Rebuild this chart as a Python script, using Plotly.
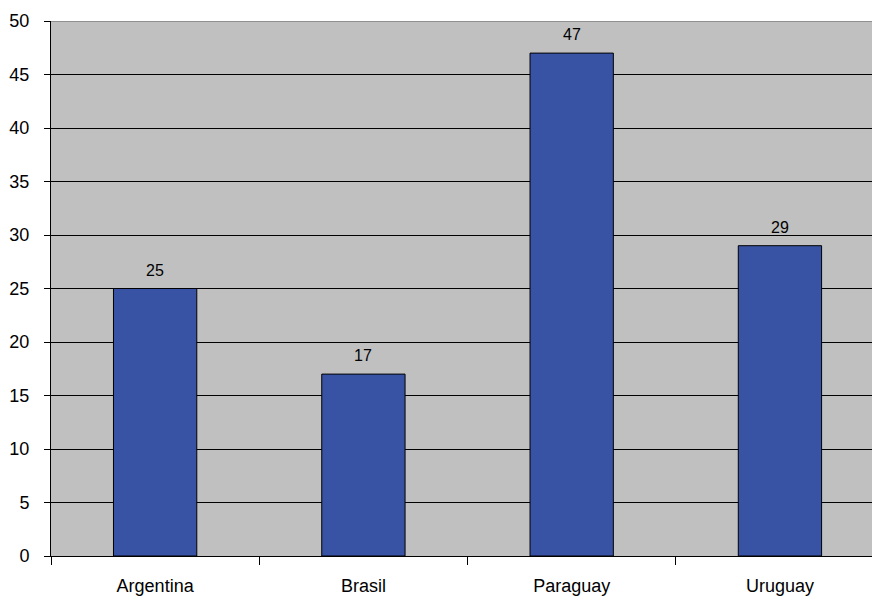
import plotly.graph_objects as go

categories = ["Argentina", "Brasil", "Paraguay", "Uruguay"]
values = [25, 17, 47, 29]
y_ticks = [0, 5, 10, 15, 20, 25, 30, 35, 40, 45, 50]

FONT = "Liberation Sans, Arial, sans-serif"

fig = go.Figure()
fig.add_trace(go.Bar(
    x=categories, y=values,
    marker=dict(color="#3953A4", line=dict(color="#000000", width=1)),
    width=0.4,
    hoverinfo="x+y",
))

for c, v in zip(categories, values):
    fig.add_annotation(x=c, y=v, text=str(v), showarrow=False,
                       yanchor="bottom", yshift=8,
                       font=dict(family=FONT, size=16, color="#000000"))

fig.add_shape(type="line", xref="paper", yref="y", x0=0, x1=1, y0=50, y1=50,
              line=dict(color="#808080", width=1.5))

fig.update_layout(
    width=872, height=597,
    margin=dict(l=51, r=0, t=21, b=41),
    paper_bgcolor="#FFFFFF",
    plot_bgcolor="#C0C0C0",
    showlegend=False,
    font=dict(family=FONT, size=17, color="#000000"),
    bargap=0.6,
)
fig.update_xaxes(
    type="category",
    range=[-0.5, 3.442],
    showgrid=False,
    showline=True, linecolor="#000000", linewidth=1,
    ticks="outside", tickson="boundaries", ticklen=8, tickcolor="#000000",
    ticklabelstandoff=13,
    tickfont=dict(family=FONT, size=18),
)
fig.update_yaxes(
    range=[0, 50],
    tickvals=y_ticks,
    showgrid=True, gridcolor="#000000", gridwidth=1,
    showline=True, linecolor="#000000", linewidth=1,
    ticks="outside", ticklen=6, tickcolor="#000000",
    ticklabelstandoff=11,
    zeroline=False,
    tickfont=dict(family=FONT, size=18),
)

fig.write_html("out.html")
